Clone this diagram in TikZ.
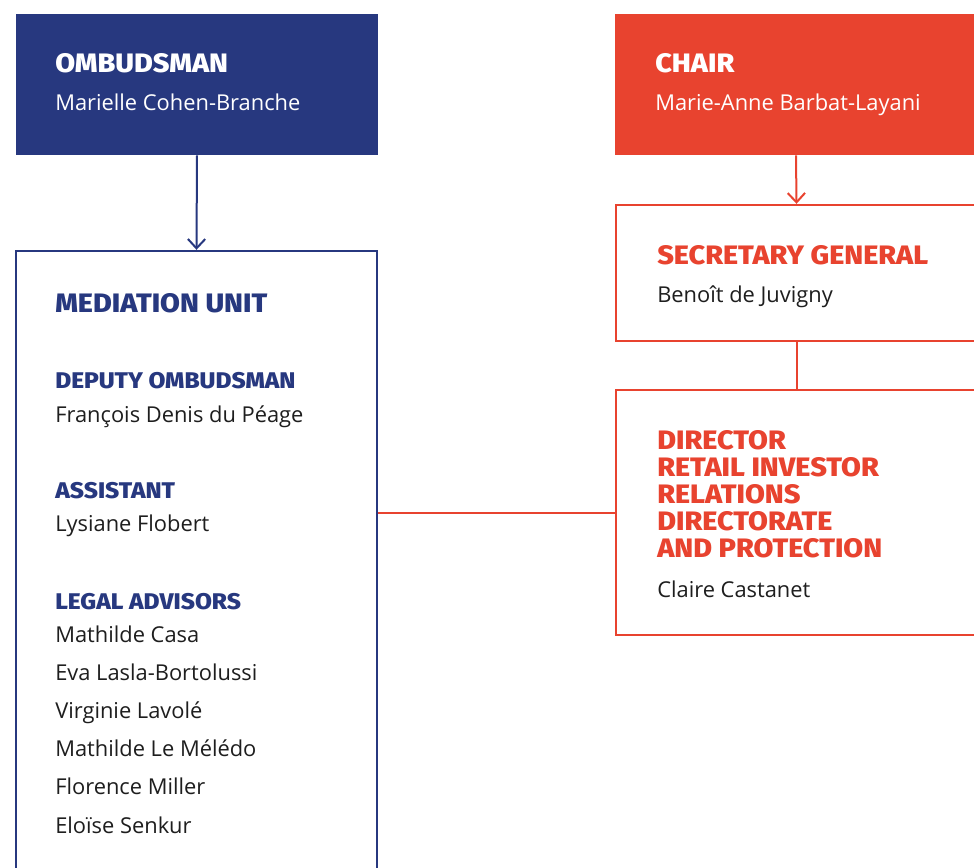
\documentclass[tikz,border=0pt]{standalone}
\usepackage{fontspec}
\setmainfont{Open Sans}
\newfontfamily\headfont{Fira Sans ExtraBold}[FakeStretch=1.08]
\usetikzlibrary{arrows.meta}
\definecolor{amfblue}{HTML}{27387F}
\definecolor{amfred}{HTML}{E8432F}
\definecolor{nametext}{HTML}{1E1E1E}
\tikzset{
    head box/.style={
        fill=#1,draw=none,
        minimum width=271.5pt,minimum height=105.75pt,
        inner sep=0pt
    },
    unit box/.style={
        draw=#1,line width=1.8pt,fill=white,
        minimum width=270.75pt,
        inner sep=0pt
    },
    big title/.style={
        anchor=base west,inner sep=0pt,
        font=\headfont\fontsize{20}{24}\selectfont
    },
    small title/.style={
        anchor=base west,inner sep=0pt,
        font=\headfont\fontsize{17}{21}\selectfont
    },
    person/.style={
        anchor=base west,inner sep=0pt,text=nametext,
        font=\fontsize{16.4}{20}\selectfont
    },
    link/.style={line width=1.5pt},
    >={Straight Barb[length=7pt,width=13pt]},
}

\begin{document}
\begin{tikzpicture}[x=0.75pt,y=-0.75pt]
                \useasboundingbox (0,0) rectangle (974,867);
                % top boxes
                \node[head box=amfblue] (omb) at (197,84.5) {};
                \node[head box=amfred] (chair) at (796,84.5) {};
                \node[big title,white] (ombtitle) at (55,73) {OMBUDSMAN};
                \node[person,white] (ombname) at (55,110) {Marielle Cohen-Branche};
                \node[big title,white] (chairtitle) at (655,73) {CHAIR};
                \node[person,white] (chairname) at (655,110) {Marie-Anne Barbat-Layani};
                % units
                \node[unit box=amfblue,minimum height=486.75pt] (med) at (196.5,575.5) {};
                \node[unit box=amfred,minimum height=102pt] (sec) at (796.5,273) {};
                \node[unit box=amfred,minimum height=183.75pt] (dir) at (796.5,512.5) {};
                % links
                \draw[amfblue,link,->] (omb.south) -- (med.north);
                \draw[amfred,link,->] (chair.south) -- (sec.north);
                \draw[amfred,link] (sec.south) -- (dir.north);
                \draw[amfred,link] (med.east |- dir.west) -- (dir.west);
                % mediation unit
                \node[big title,amfblue] (medtitle) at (55,312) {MEDIATION UNIT};
                \node[small title,amfblue] (deputy) at (55,388) {DEPUTY OMBUDSMAN};
                \node[person] (deputyname) at (55,422) {François Denis du Péage};
                \node[small title,amfblue] (assist) at (55,498) {ASSISTANT};
                \node[person] (assistname) at (55,531) {Lysiane Flobert};
                \node[small title,amfblue] (legal) at (55,609) {LEGAL ADVISORS};
                \foreach \i/\name in {0/Mathilde Casa,1/Eva Lasla-Bortolussi,2/Virginie Lavolé,
                    3/Mathilde Le Mélédo,4/Florence Miller,5/Eloïse Senkur}
                \node[person] (legal\i) at (55,642+38.2*\i) {\name};
                % secretary general
                \node[big title,amfred] (sectitle) at (657,264) {SECRETARY GENERAL};
                \node[person] (secname) at (657,302) {Benoît de Juvigny};
                % director
                \foreach \i/\line in {0/DIRECTOR,1/RETAIL INVESTOR,2/RELATIONS,
                    3/DIRECTORATE,4/AND PROTECTION}
                \node[big title,amfred] (dirtitle\i) at (657,449+27.2*\i) {\line};
                \node[person] (dirname) at (657,597) {Claire Castanet};
            \end{tikzpicture}
\end{document}
